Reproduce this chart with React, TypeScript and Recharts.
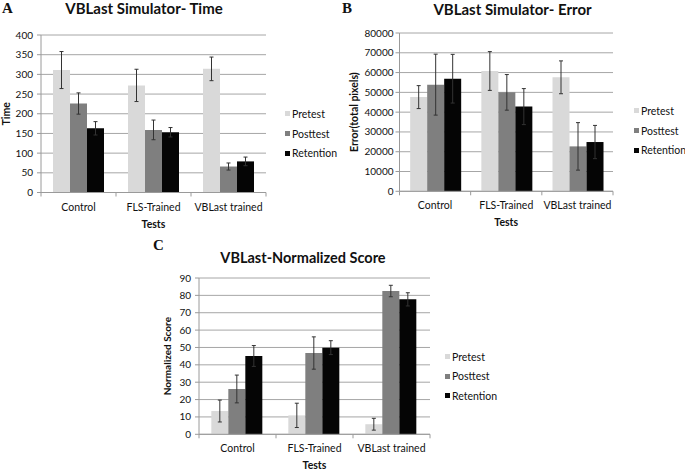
import React from 'react';
import { BarChart, Bar, XAxis, YAxis, CartesianGrid, ErrorBar, Legend, Label } from 'recharts';

const categories = ['Control', 'FLS-Trained', 'VBLast trained'];
const seriesNames = ['Pretest', 'Posttest', 'Retention'];

// A: time
const timePretest = [311, 272, 314];
const timePretestErr = [47, 41, 30];
const timePosttest = [226, 159, 66];
const timePosttestErr = [27, 25, 9];
const timeRetention = [163, 153, 79];
const timeRetentionErr = [17, 12, 11];
const timeTicks = [0, 50, 100, 150, 200, 250, 300, 350, 400];

// B: error
const errorPretest = [47600, 60800, 57600];
const errorPretestErr = [5800, 9800, 8300];
const errorPosttest = [53900, 50000, 22700];
const errorPosttestErr = [15400, 9000, 12000];
const errorRetention = [56900, 42800, 24900];
const errorRetentionErr = [12300, 9100, 8400];
const errorTicks = [0, 10000, 20000, 30000, 40000, 50000, 60000, 70000, 80000];

// C: normalized score
const scorePretest = [13.4, 10.9, 5.8];
const scorePretestErr = [6.3, 7, 3.4];
const scorePosttest = [26.1, 46.8, 82.5];
const scorePosttestErr = [8, 9.3, 3.3];
const scoreRetention = [45.1, 49.9, 77.7];
const scoreRetentionErr = [6, 4, 3.8];
const scoreTicks = [0, 10, 20, 30, 40, 50, 60, 70, 80, 90];

const FONT = 'Lato, "Liberation Sans", sans-serif';
const GRID = '#a6a6a6';
const AXIS = '#9a9a9a';
const TEXT = '#111';

const buildRows = (
  pre: number[], preErr: number[],
  post: number[], postErr: number[],
  ret: number[], retErr: number[]
) =>
  categories.map((name, i) => ({
    name,
    pretest: pre[i], pretestErr: preErr[i],
    posttest: post[i], posttestErr: postErr[i],
    retention: ret[i], retentionErr: retErr[i],
  }));

type Box = { x: number; y: number; w: number; h: number };
type Plot = { l: number; t: number; r: number; b: number };

interface PanelProps {
  box: Box;
  plot: Plot;
  rows: any[];
  ticks: number[];
  yLabel: string;
  yLabelX: number;
  yLabelSize: number;
  yTickMargin: number;
  gap: string;
  legendX: number;
  legendY: number;
  legendRow: number;
}

const Panel: React.FC<PanelProps> = ({
  box, plot, rows, ticks, yLabel, yLabelX, yLabelSize, yTickMargin, gap, legendX, legendY, legendRow,
}) => {
  const band = (plot.r - plot.l) / categories.length;
  const plotMidX = (plot.l + plot.r) / 2 - box.x;
  const plotMidY = (plot.t + plot.b) / 2 - box.y;
  const axisY = plot.b - box.y;

  const renderTick = (props: any) => {
    const { x, y, payload, index } = props;
    return (
      <g>
        <line x1={x - band / 2} x2={x - band / 2} y1={y} y2={y + 4} stroke={AXIS} />
        {index === categories.length - 1 && (
          <line x1={x + band / 2} x2={x + band / 2} y1={y} y2={y + 4} stroke={AXIS} />
        )}
        <text x={x} y={y + 18} textAnchor="middle" fontSize={10.5} fill={TEXT} fontFamily={FONT}>
          {payload.value}
        </text>
      </g>
    );
  };

  // legend keeps the series order (Pretest, Posttest, Retention)
  const renderLegend = (props: any) => {
    const items = [...(props.payload || [])].sort(
      (a: any, b: any) => seriesNames.indexOf(a.value) - seriesNames.indexOf(b.value)
    );
    return (
      <div style={{ fontFamily: FONT, fontSize: 10.5, color: TEXT }}>
        {items.map((entry: any) => (
          <div key={entry.value} style={{ height: legendRow, display: 'flex', alignItems: 'center', whiteSpace: 'nowrap' }}>
            <span style={{ display: 'inline-block', width: 5, height: 5, background: entry.color, marginRight: 2 }} />
            {entry.value}
          </div>
        ))}
      </div>
    );
  };

  return (
    <div style={{ position: 'absolute', left: box.x, top: box.y }}>
      <BarChart
        width={box.w}
        height={box.h}
        data={rows}
        margin={{ top: plot.t - box.y, right: box.x + box.w - plot.r, bottom: 0, left: 0 }}
        barGap={0}
        barCategoryGap={gap}
      >
        <CartesianGrid vertical={false} stroke={GRID} />
        <XAxis
          dataKey="name"
          height={box.y + box.h - plot.b}
          interval={0}
          tickLine={false}
          tickSize={0}
          tickMargin={0}
          tick={renderTick}
          axisLine={{ stroke: AXIS }}
        >
          <Label
            content={() => (
              <text x={plotMidX} y={axisY + 35} textAnchor="middle" fontSize={10.5} fontWeight="bold" fill={TEXT} fontFamily={FONT}>
                Tests
              </text>
            )}
          />
        </XAxis>
        <YAxis
          width={plot.l - box.x}
          domain={[0, ticks[ticks.length - 1]]}
          ticks={ticks}
          interval={0}
          tickSize={4}
          tickMargin={yTickMargin}
          tick={{ fontSize: 10, fill: TEXT, fontFamily: FONT }}
          axisLine={{ stroke: AXIS }}
          tickLine={{ stroke: AXIS }}
        >
          <Label
            content={() => {
              const cx = yLabelX - box.x;
              return (
                <text
                  x={cx}
                  y={plotMidY}
                  dy="0.35em"
                  transform={`rotate(-90, ${cx}, ${plotMidY})`}
                  textAnchor="middle"
                  fontSize={yLabelSize}
                  fontWeight="bold"
                  fill={TEXT}
                  fontFamily={FONT}
                >
                  {yLabel}
                </text>
              );
            }}
          />
        </YAxis>
        <Legend
          layout="vertical"
          align="center"
          verticalAlign="middle"
          wrapperStyle={{ left: legendX - box.x, top: legendY - box.y }}
          content={renderLegend}
        />
        <Bar dataKey="pretest" name="Pretest" fill="#d9d9d9" isAnimationActive={false}>
          <ErrorBar dataKey="pretestErr" width={2} stroke="#333" strokeWidth={1} />
        </Bar>
        <Bar dataKey="posttest" name="Posttest" fill="#7f7f7f" isAnimationActive={false}>
          <ErrorBar dataKey="posttestErr" width={2} stroke="#333" strokeWidth={1} />
        </Bar>
        <Bar dataKey="retention" name="Retention" fill="#050505" isAnimationActive={false}>
          <ErrorBar dataKey="retentionErr" width={2} stroke="#333" strokeWidth={1} />
        </Bar>
      </BarChart>
    </div>
  );
};

const timeRows = buildRows(timePretest, timePretestErr, timePosttest, timePosttestErr, timeRetention, timeRetentionErr);
const errorRows = buildRows(errorPretest, errorPretestErr, errorPosttest, errorPosttestErr, errorRetention, errorRetentionErr);
const scoreRows = buildRows(scorePretest, scorePretestErr, scorePosttest, scorePosttestErr, scoreRetention, scoreRetentionErr);

export default function App() {
  return (
    <div style={{ position: 'absolute', left: 0, top: 0, width: 685, height: 470, background: '#fff', overflow: 'hidden' }}>
      <Panel
        box={{ x: 0, y: 0, w: 340, h: 230 }}
        plot={{ l: 41, t: 35, r: 266, b: 192.5 }}
        rows={timeRows}
        ticks={timeTicks}
        yLabel="Time"
        yLabelX={6}
        yLabelSize={10.5}
        yTickMargin={4}
        gap="16%"
        legendX={285}
        legendY={104}
        legendRow={19.8}
      />
      <Panel
        box={{ x: 340, y: 0, w: 345, h: 230 }}
        plot={{ l: 399.5, t: 33, r: 613, b: 191.3 }}
        rows={errorRows}
        ticks={errorTicks}
        yLabel="Error(total pixels)"
        yLabelX={354}
        yLabelSize={10.5}
        yTickMargin={2}
        gap="15%"
        legendX={634}
        legendY={101}
        legendRow={19.7}
      />
      <Panel
        box={{ x: 150, y: 230, w: 360, h: 240 }}
        plot={{ l: 199, t: 278, r: 430, b: 434.3 }}
        rows={scoreRows}
        ticks={scoreTicks}
        yLabel="Normalized Score"
        yLabelX={167.5}
        yLabelSize={10}
        yTickMargin={4}
        gap="16%"
        legendX={445}
        legendY={347}
        legendRow={19.5}
      />
      <svg width={685} height={470} style={{ position: 'absolute', left: 0, top: 0, pointerEvents: 'none' }}>
        <text x={2} y={13} fontSize={15} fontWeight="bold" fontFamily='"Liberation Serif", serif' fill="#111">A</text>
        <text x={342} y={13} fontSize={15} fontWeight="bold" fontFamily='"Liberation Serif", serif' fill="#111">B</text>
        <text x={153} y={250} fontSize={15} fontWeight="bold" fontFamily='"Liberation Serif", serif' fill="#111">C</text>
        <text x={144} y={14} textAnchor="middle" fontSize={15} fontWeight="bold" fontFamily={FONT} fill={TEXT}>VBLast Simulator- Time</text>
        <text x={512.5} y={15} textAnchor="middle" fontSize={15} fontWeight="bold" fontFamily={FONT} fill={TEXT}>VBLast Simulator- Error</text>
        <text x={303} y={263} textAnchor="middle" fontSize={14.5} fontWeight="bold" fontFamily={FONT} fill={TEXT}>VBLast-Normalized Score</text>
      </svg>
    </div>
  );
}
